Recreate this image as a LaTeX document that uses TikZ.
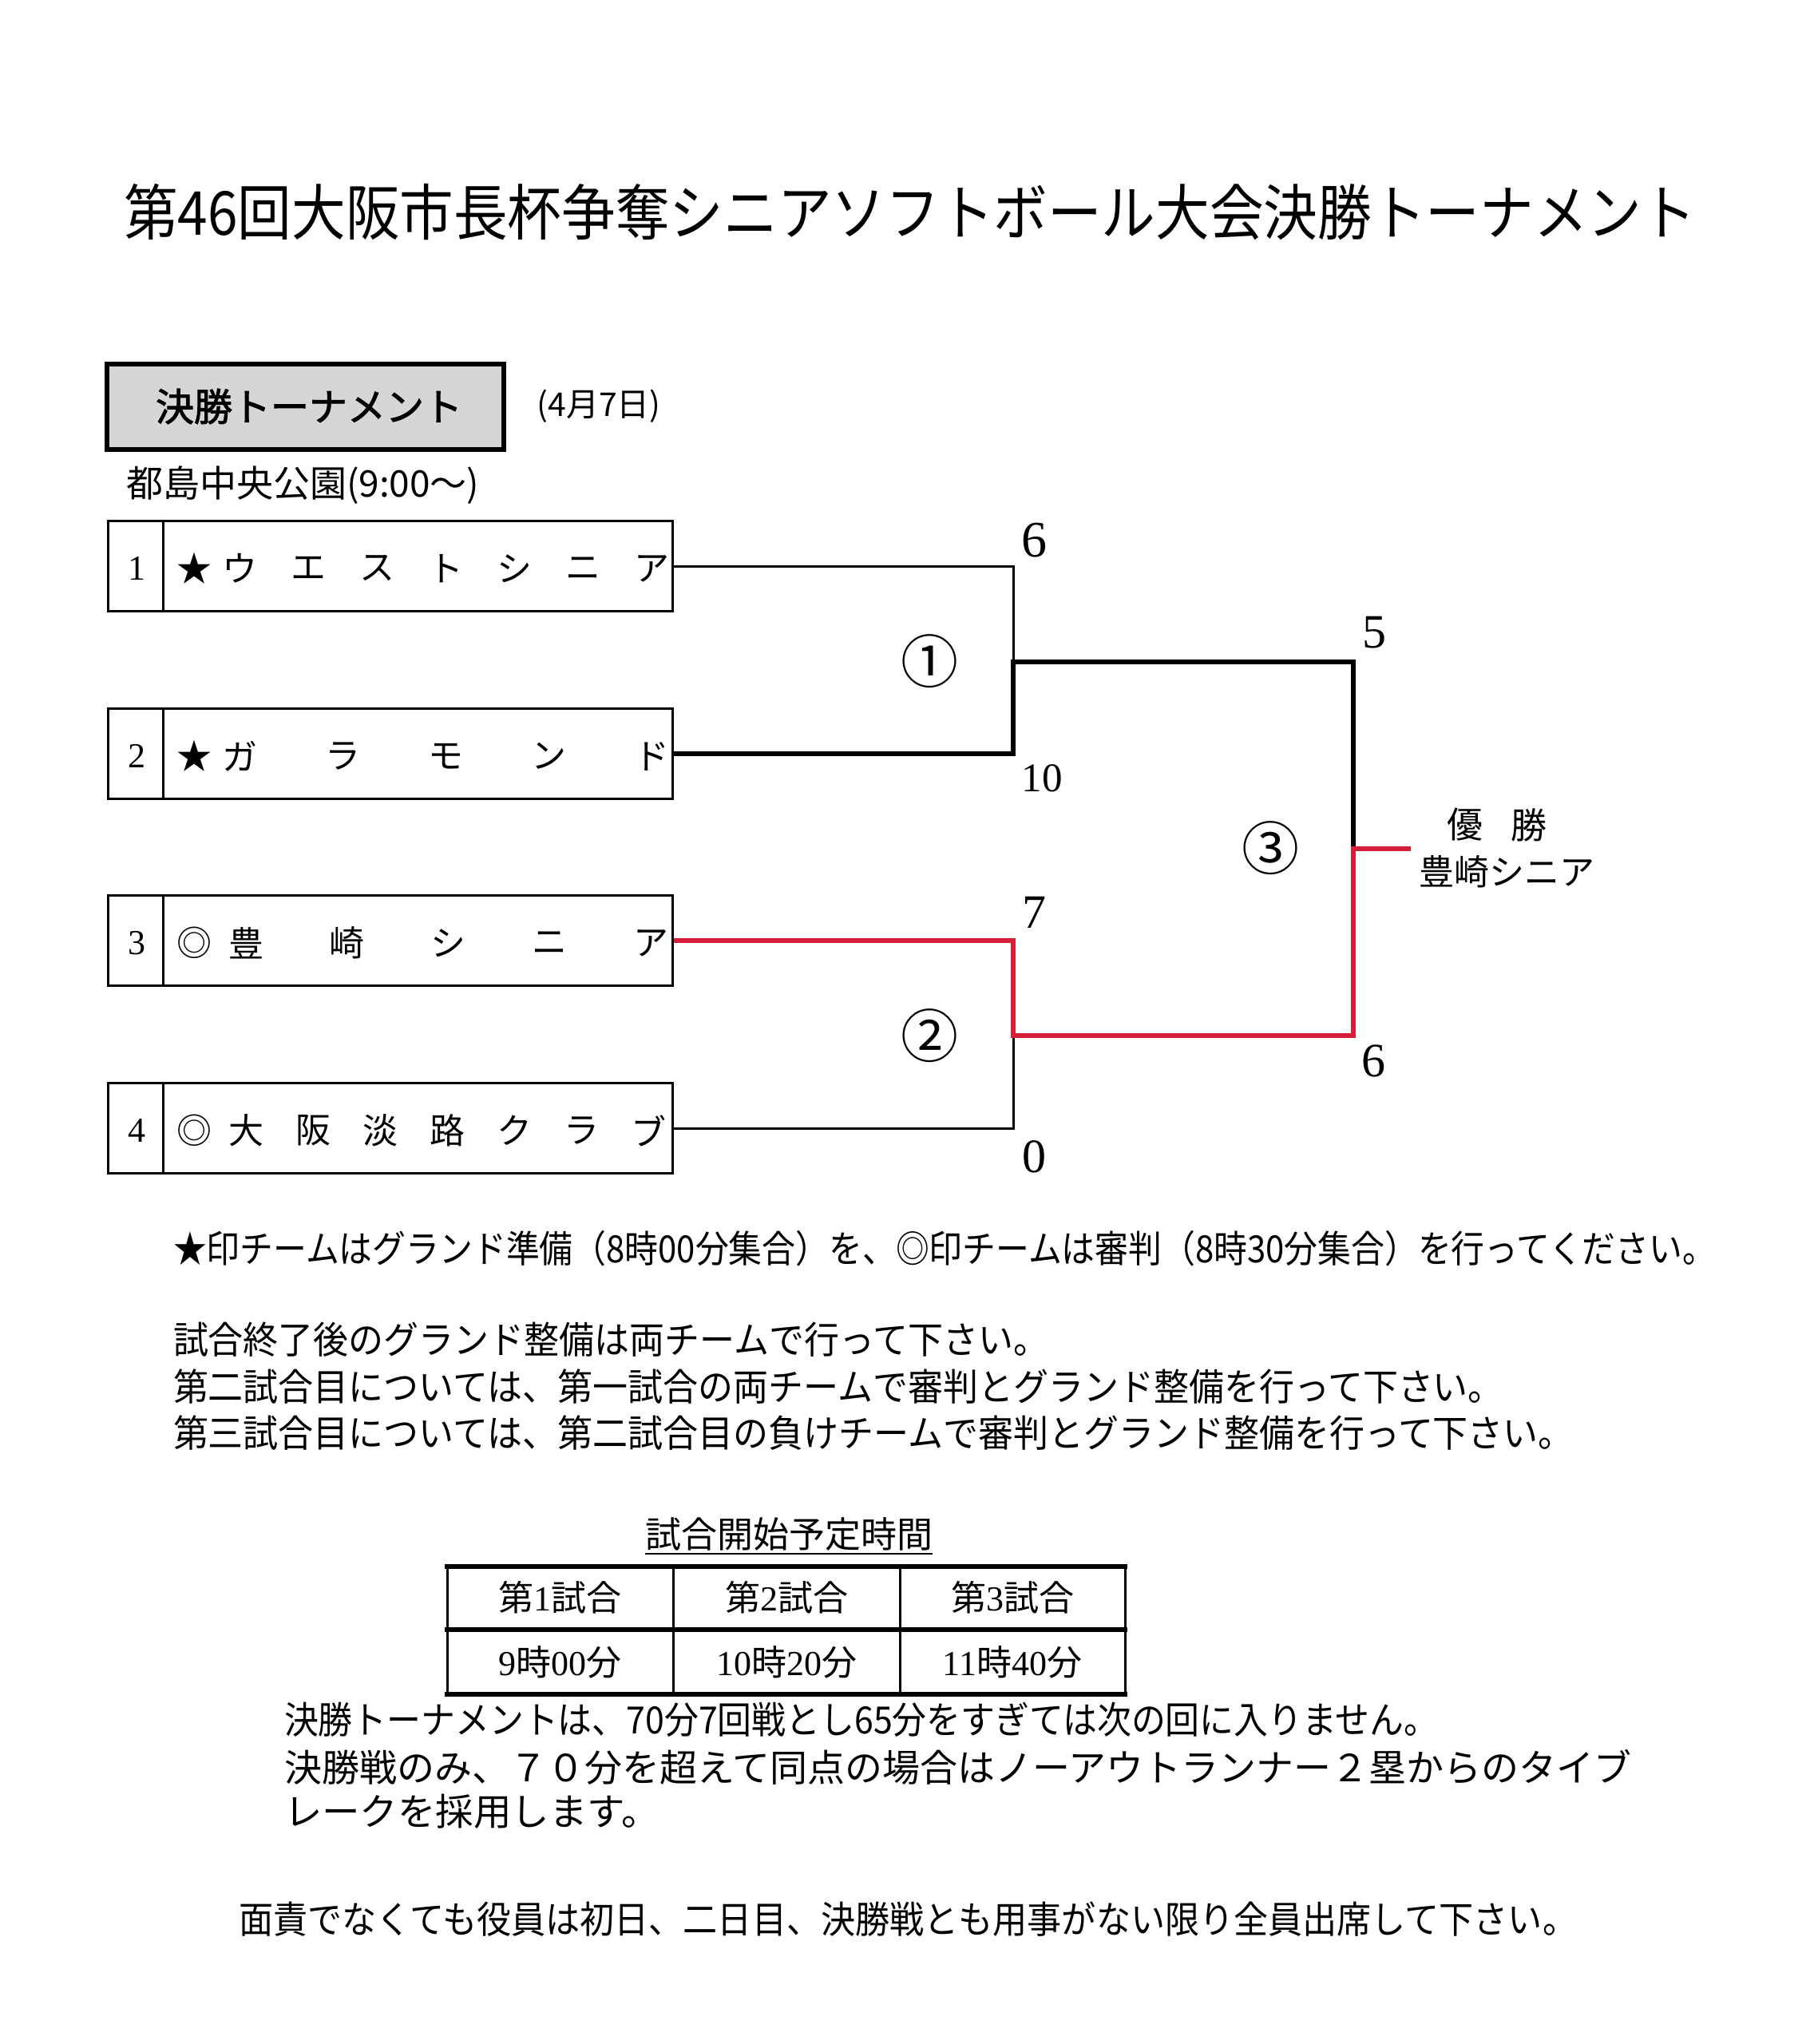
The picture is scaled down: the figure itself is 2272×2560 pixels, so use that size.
\documentclass[tikz,border=0pt]{standalone}
\usepackage{fontspec}
\newfontfamily\jp{Noto Sans CJK JP}
\newfontfamily\jptitle[FakeStretch=0.89]{Noto Sans CJK JP}
\newfontfamily\jpnote[FakeStretch=0.936]{Noto Sans CJK JP}
\newfontfamily\jpnoteA[FakeStretch=0.89]{Noto Sans CJK JP}
\newfontfamily\jpnoteC[FakeStretch=0.912]{Noto Sans CJK JP}
\newfontfamily\jpnoteD[FakeStretch=0.917]{Noto Sans CJK JP}
\newfontfamily\jpnoteE[FakeStretch=1.01]{Noto Sans CJK JP}
\newfontfamily\jpbold[FakeBold=2]{Noto Sans CJK JP}
\newfontfamily\serifdig{Liberation Serif}
\definecolor{winred}{RGB}{214,30,56}
\definecolor{hdrgray}{RGB}{214,214,214}
\newcommand\fs[1]{\fontsize{#1}{#1}\selectfont}
\begin{document}
\begin{tikzpicture}[x=1pt,y=-1pt,
  txt/.style={inner sep=0pt, outer sep=0pt},
  teambox/.style={draw, line width=3pt, minimum width=707pt, minimum height=113pt, inner sep=0pt},
  tn/.style={txt, font=\jp\fs{44}},
  num/.style={txt, font=\serifdig\fs{44}},
  score/.style={txt, font=\serifdig\fs{60}},
  circ/.style={txt, font=\jp\fs{72}},
  note/.style={txt, anchor=west, font=\jpnote\fs{47}},
  cell/.style={txt, font=\jp\fs{44}},
  thinln/.style={line width=3pt, line join=miter},
  thickln/.style={line width=6.5pt, line join=miter},
  redln/.style={line width=6.5pt, line join=miter, draw=winred}]
\useasboundingbox (0,0) rectangle (2272,2560);
\fill[white] (0,0) rectangle (2272,2560);

% title
\node[txt, anchor=west, font=\jptitle\fs{76}] (title) at (155,266) {第46回大阪市長杯争奪シニアソフトボール大会決勝トーナメント};

% header box
\node[draw, line width=6pt, fill=hdrgray, minimum width=497pt, minimum height=107pt, inner sep=0pt] (hdr) at (382.5,509.5) {};
\node[txt, font=\jpbold\fs{48}] (hdrt) at (387,509) {決勝トーナメント};
\node[txt, font=\jp\fs{41}] (date) at (750,509) {(4月7日)};
\node[txt, anchor=west, font=\jp\fs{46}] (venue) at (158,608) {都島中央公園(9:00～)};

% team boxes
\foreach \k/\yy in {1/709, 2/944, 3/1178, 4/1413} {
  \node[teambox] (b\k) at (489,\yy) {};
  \draw[line width=3pt] ([xshift=70pt]b\k.north west) -- ([xshift=70pt]b\k.south west);
  \node[num] (n\k) at (171,\yy+3) {\k};
}
\node[tn] (s1) at (243,712) {★};
\node[tn] (s2) at (243,947) {★};
\node[tn] (s3) at (243,1181) {◎};
\node[tn] (s4) at (243,1416) {◎};
\foreach \c [count=\i] in {ウ,エ,ス,ト,シ,ニ,ア}
  \node[tn] (t1c\i) at ({300+(\i-1)*86},712) {\c};
\foreach \c [count=\i] in {ガ,ラ,モ,ン,ド}
  \node[tn] (t2c\i) at ({300+(\i-1)*129},947) {\c};
\foreach \c [count=\i] in {豊,崎,シ,ニ,ア}
  \node[tn] (t3c\i) at ({308+(\i-1)*126.75},1181) {\c};
\foreach \c [count=\i] in {大,阪,淡,路,ク,ラ,ブ}
  \node[tn] (t4c\i) at ({308+(\i-1)*84},1416) {\c};

% bracket coordinates
\coordinate (j1a) at (1269,709);
\coordinate (m1) at (1269,829);
\coordinate (j1b) at (1269,944);
\coordinate (j2a) at (1269,1178);
\coordinate (m2) at (1269,1297);
\coordinate (j2b) at (1269,1413);
\coordinate (f1) at (1695,829);
\coordinate (fm) at (1695,1063);
\coordinate (f2) at (1695,1297);
\coordinate (champ) at (1767,1063);

\draw[thinln] (b1.east) -- (j1a) -- (m1);
\draw[thinln] (b4.east) -- (j2b) -- (m2);
\draw[thickln] (b2.east) -- (j1b) -- (m1) -- (f1) -- (fm);
\draw[redln] (b3.east) -- (j2a) -- (m2) -- (f2) -- (fm) -- (champ);

% scores
\node[score, font=\serifdig\fs{64}] (sc1) at (1295,677) {6};
\node[score, font=\serifdig\fs{51}] (sc2) at (1305,975) {10};
\node[score] (sc3) at (1295,1143) {7};
\node[score] (sc4) at (1295,1449) {0};
\node[score] (sc5) at (1721,792) {5};
\node[score] (sc6) at (1720,1329) {6};

% match numbers
\node[circ] (g1) at (1164,828) {①};
\node[circ] (g2) at (1164,1297) {②};
\node[circ] (g3) at (1591,1062) {③};

% champion
\node[txt, font=\jp\fs{45}] (yu) at (1835,1033) {優};
\node[txt, font=\jp\fs{45}] (sho) at (1915,1033) {勝};
\node[txt, font=\jp\fs{44}] (champt) at (1887,1092) {豊崎シニア};

% notes
\node[note, font=\jpnoteA\fs{47}] (l1) at (217,1564) {★印チームはグランド準備（8時00分集合）を、◎印チームは審判（8時30分集合）を行ってください。};
\node[note] (l2) at (217,1678) {試合終了後のグランド整備は両チームで行って下さい。};
\node[note] (l3) at (217,1737) {第二試合目については、第一試合の両チームで審判とグランド整備を行って下さい。};
\node[note] (l4) at (217,1795) {第三試合目については、第二試合目の負けチームで審判とグランド整備を行って下さい。};

% schedule table
\node[txt, font=\jp\fs{45}] (tt) at (988,1921) {試合開始予定時間};
\draw[line width=2.5pt] ([yshift=-4pt]tt.south west) -- ([yshift=-4pt]tt.south east);
\draw[line width=3pt] (560,1962) -- (560,2122);
\draw[line width=3pt] (843,1962) -- (843,2122);
\draw[line width=3pt] (1127,1962) -- (1127,2122);
\draw[line width=3pt] (1409,1962) -- (1409,2122);
\draw[line width=5.5pt] (557,1962) -- (1412,1962);
\draw[line width=5.5pt] (557,2041) -- (1412,2041);
\draw[line width=5.5pt] (557,2122) -- (1412,2122);
\node[cell] (c11) at (701,2001) {第{\serifdig 1}試合};
\node[cell] (c12) at (985,2001) {第{\serifdig 2}試合};
\node[cell] (c13) at (1268,2001) {第{\serifdig 3}試合};
\node[cell] (c21) at (701,2082) {{\serifdig 9}時{\serifdig 00}分};
\node[cell] (c22) at (985,2082) {{\serifdig 10}時{\serifdig 20}分};
\node[cell] (c23) at (1268,2082) {{\serifdig 11}時{\serifdig 40}分};

\node[note, font=\jpnoteC\fs{47}] (l5) at (356,2154) {決勝トーナメントは、70分7回戦とし65分をすぎては次の回に入りません。};
\node[note, font=\jp\fs{47}] (l6) at (356,2213) {決勝戦のみ、７０分を超えて同点の場合はノーアウトランナー２塁からのタイブ};
\node[note, font=\jpnoteE\fs{47}] (l7) at (356,2269) {レークを採用します。};
\node[note, font=\jpnoteD\fs{47}] (l8) at (299,2404) {面責でなくても役員は初日、二日目、決勝戦とも用事がない限り全員出席して下さい。};
\end{tikzpicture}
\end{document}
